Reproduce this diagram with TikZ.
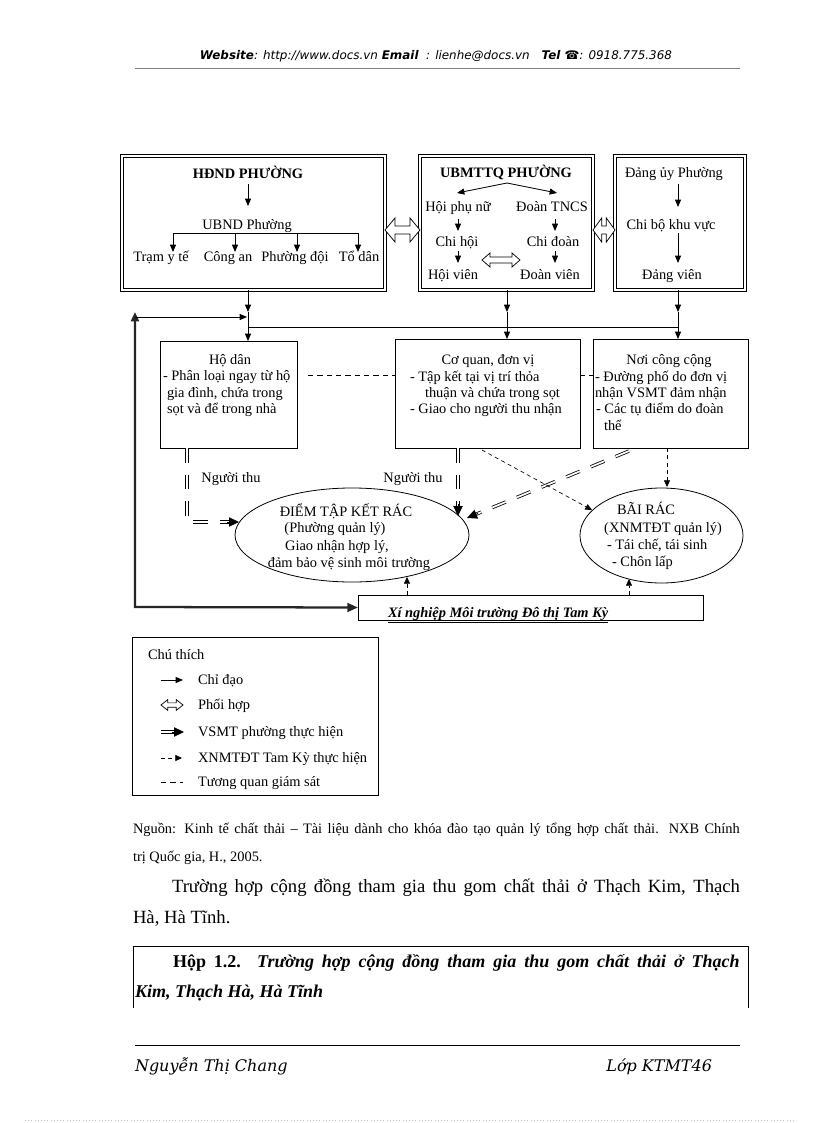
\documentclass[tikz,border=0pt]{standalone}
\usepackage{graphicx}
\usepackage{fontspec}
\setmainfont{Liberation Serif}
\newfontfamily\hdrfont{DejaVu Sans}
\newfontfamily\footfont{DejaVu Serif}
\usetikzlibrary{arrows.meta,shapes.geometric,fit,calc}
\newcommand\dfont{\fontsize{10.8}{13}\selectfont}
% hollow double-headed "coordination" arrow between two named points
% #1,#2 end points; #3 head length; #4 head half width; #5 shaft half width
\newcommand\coopar[5]{\draw[coopo] let \p1=(#1), \p2=(#2) in
  (\x1,\y1) -- (\x1+#3,\y1+#4) -- (\x1+#3,\y1+#5) -- (\x2-#3,\y2+#5) -- (\x2-#3,\y2+#4)
  -- (\x2,\y2) -- (\x2-#3,\y2-#4) -- (\x2-#3,\y2-#5) -- (\x1+#3,\y1-#5) -- (\x1+#3,\y1-#4) -- cycle;}
\begin{document}
\begin{tikzpicture}[x=0.75pt,y=-0.75pt,
  every node/.style={inner sep=0pt, outer sep=0pt},
  tx/.style={font=\dfont, anchor=base, text height=7.5pt, text depth=2.2pt},
  txw/.style={tx, anchor=base west},
  dbox/.style={draw, double, double distance=1.5pt, line width=0.7pt},
  sbox/.style={draw, line width=0.6pt},
  ell/.style={draw, ellipse, line width=0.6pt},
  arr/.style={line width=0.6pt, -{Triangle[length=5.5pt,width=4.5pt]}},
  coopo/.style={draw, fill=white, line width=0.55pt, line join=miter},
  vsmtb/.style={double, double distance=1.3pt, line width=0.6pt, shorten >=6.5pt},
  vsmt/.style={vsmtb, dash pattern=on 11pt off 9pt},
  vtip/.style={line width=0.6pt, -{Triangle[length=7.5pt,width=7pt]}},
  xnm/.style={line width=0.5pt, dash pattern=on 3pt off 2.5pt, -{Triangle[length=5pt,width=4.5pt]}},
  tqgs/.style={line width=0.6pt, dash pattern=on 4pt off 3pt},
  heavy/.style={line width=1.7pt, black!85},
]
\useasboundingbox (0,0) rectangle (816,1123);
\fill[white] (0,0) rectangle (816,1123);

% ---------- header ----------
\node[anchor=base] (hdr) at (436,60) {\resizebox{354pt}{!}{\hdrfont\fontsize{9}{11}\selectfont\bfseries\itshape Website\mdseries : http://www.docs.vn \bfseries Email\mdseries\ \ : lienhe@docs.vn\quad\bfseries Tel ☎\mdseries : 0918.775.368}};
\coordinate (hl1) at (135,68);
\coordinate (hl2) at (740,68);
\draw[gray, line width=0.5pt] (hl1) -- (hl2);

% ---------- top boxes ----------
\node[dbox, fit={(122,156) (385,290)}] (b1) {};
\node[dbox, fit={(420,156) (593,290)}] (b2) {};
\node[dbox, fit={(615,156) (745,290)}] (b3) {};

% box 1
\node[tx, font=\dfont\bfseries] (hdnd) at (248,179) {HĐND PHƯỜNG};
\node[tx] (ubnd) at (247,229) {UBND Phường};
\node[tx] (tram) at (161,262) {Trạm y tế};
\node[tx] (cong) at (228,262) {Công an};
\node[tx] (pdoi) at (295,262) {Phường đội};
\node[tx] (tdan) at (359,262) {Tổ dân};
\coordinate (a1s) at (248,184);
\coordinate (a1e) at (248,206);
\draw[arr] (a1s) -- (a1e);
\coordinate (u1) at (173,233);
\coordinate (u2) at (235,233);
\coordinate (u3) at (297,233);
\coordinate (u4) at (358,233);
\draw[line width=0.6pt] (u1) -- (u4);
\draw[arr] (u1) -- (u1 |- tram.north);
\draw[arr] (u2) -- (u2 |- cong.north);
\draw[arr] (u3) -- (u3 |- pdoi.north);
\draw[arr] (u4) -- (u4 |- tdan.north);

% box 2
\node[tx, font=\dfont\bfseries] (ubm) at (506,178) {UBMTTQ PHƯỜNG};
\node[tx] (hpn) at (458,212) {Hội phụ nữ};
\node[tx] (dtn) at (552,212) {Đoàn TNCS};
\node[tx] (chh) at (457,246) {Chi hội};
\node[tx] (chd) at (553,246) {Chi đoàn};
\node[tx] (hvn) at (453,279) {Hội viên};
\node[tx] (dvn) at (550,279) {Đoàn viên};
\coordinate (ubs) at (507,183);
\coordinate (hpnT) at (457,193);
\coordinate (dtnT) at (557,193);
\draw[arr] (ubs) -- (hpnT);
\draw[arr] (ubs) -- (dtnT);
\coordinate (c1a) at (458,219); \coordinate (c1b) at (458,231);
\coordinate (c2a) at (458,251); \coordinate (c2b) at (458,263);
\coordinate (c3a) at (555,219); \coordinate (c3b) at (555,231);
\coordinate (c4a) at (555,251); \coordinate (c4b) at (555,263);
\draw[arr] (c1a) -- (c1b);
\draw[arr] (c2a) -- (c2b);
\draw[arr] (c3a) -- (c3b);
\draw[arr] (c4a) -- (c4b);
\coordinate (cp1) at (482,260);
\coordinate (cp2) at (520,260);
\coopar{cp1}{cp2}{6pt}{5.25pt}{2.2pt}

% box 3
\node[tx] (dup) at (674,178) {Đảng ủy Phường};
\node[tx] (cbk) at (671,229) {Chi bộ khu vực};
\node[tx] (dvi) at (672,279) {Đảng viên};
\coordinate (d1a) at (678,184); \coordinate (d1b) at (678,207);
\coordinate (d2a) at (678,233); \coordinate (d2b) at (678,263);
\draw[arr] (d1a) -- (d1b);
\draw[arr] (d2a) -- (d2b);

% coordination between boxes
\coopar{[yshift=-5.25pt]b1.east}{[yshift=-5.25pt]b2.west}{7.5pt}{9pt}{3pt}
\coopar{[yshift=-5.25pt]b2.east}{[yshift=-5.25pt]b3.west}{6.5pt}{9pt}{3pt}

% ---------- middle boxes ----------
\node[sbox, fit={(160,341) (297,448)}] (hd) {};
\node[sbox, fit={(395,339) (580,448)}] (cq) {};
\node[sbox, fit={(593,339) (748,448)}] (nc) {};

\node[tx] (hdt) at (230,364) {Hộ dân};
\node[txw] (hd1) at (163,380) {- Phân loại ngay từ hộ};
\node[txw] (hd2) at (167,397) {gia đình, chứa trong};
\node[txw] (hd3) at (167,413) {sọt và để trong nhà};

\node[tx] (cqt) at (488,364) {Cơ quan, đơn vị};
\node[txw] (cq1) at (410,381) {- Tập kết tại vị trí thỏa};
\node[txw] (cq2) at (425,397) {thuận và chứa trong sọt};
\node[txw] (cq3) at (410,413) {- Giao cho người thu nhận};

\node[tx] (nct) at (669,364) {Nơi công cộng};
\node[txw] (nc1) at (595,381) {- Đường phố do đơn vị};
\node[txw] (nc2) at (595,397) {nhận VSMT đảm nhận};
\node[txw] (nc3) at (596,413) {- Các tụ điểm do đoàn};
\node[txw] (nc4) at (604,430) {thể};

% links top -> middle
\coordinate (j1) at (248,312);
\coordinate (j2) at (507,312);
\coordinate (j3) at (678,312);
\coordinate (h1) at (248,327);
\coordinate (h3) at (678,327);
\draw[arr] (j1 |- b1.south) -- (j1);
\draw[arr] (j2 |- b2.south) -- (j2);
\draw[arr] (j3 |- b3.south) -- (j3);
\draw[arr] (j1) -- (j1 |- hd.north);
\draw[arr] (j2) -- (j2 |- cq.north);
\draw[arr] (j3) -- (j3 |- nc.north);
\draw[line width=0.6pt] (h1) -- (h3);

% monitoring dashed links
\coordinate (tq1) at (308,375);
\draw[tqgs] (tq1) -- (tq1 -| cq.west);
\draw[tqgs] (cq.east |- tq1) -- (nc.west |- tq1);

% ---------- ellipses ----------
\node[ell, minimum width=175.5pt, minimum height=70.5pt] (e1) at (352,535) {};
\node[tx] (e1a) at (346,516) {ĐIỂM TẬP KẾT RÁC};
\node[tx] (e1b) at (335,532) {(Phường quản lý)};
\node[tx] (e1c) at (337,550) {Giao nhận hợp lý,};
\node[tx] (e1d) at (349,567) {đảm bảo vệ sinh môi trường};

\node[ell, minimum width=122.25pt, minimum height=71.25pt] (e2) at (661.5,535.5) {};
\node[tx] (e2a) at (646,514) {BÃI RÁC};
\node[tx] (e2b) at (663,532) {(XNMTĐT quản lý)};
\node[txw] (e2c) at (607,549) {- Tái chế, tái sinh};
\node[txw] (e2d) at (612,566) {- Chôn lấp};

\node[tx] (ng1) at (231,482) {Người thu};
\node[tx] (ng2) at (413,482) {Người thu};

% VSMT flows
\coordinate (v1) at (187,522);
\coordinate (v1t) at (239,522);
\draw[vsmt] (v1 |- hd.south) -- (v1) -- (v1t);
\draw[vtip] ($(v1t)!9pt!(v1)$) -- (v1t);
\coordinate (v2t) at (458,516);
\draw[vsmt] (v2t |- cq.south) -- (v2t);
\draw[vtip] ($(v2t)!9pt!(v2t |- cq.south)$) -- (v2t);
\coordinate (v3s) at (629,451);
\coordinate (v3t) at (467,518);
\draw[vsmt] (v3s) -- (v3t);
\draw[vtip] ($(v3t)!9pt!(v3s)$) -- (v3t);

% XNMTDT flows
\coordinate (x1s) at (482,450);
\coordinate (x1t) at (592,510);
\draw[xnm] (x1s) -- (x1t);
\coordinate (x2) at (667,487);
\draw[xnm] (x2 |- nc.south) -- (x2);

% ---------- Xi nghiep ----------
\node[sbox, fit={(358,595) (703,620)}] (xn) {};
\node[txw, font=\dfont\bfseries\itshape] (xnt) at (388,617) {\underline{Xí nghiệp Môi trường Đô thị Tam Kỳ}};
\coordinate (x3) at (407,577);
\draw[xnm] (x3 |- xn.north) -- (x3);
\coordinate (x4) at (629,579);
\draw[xnm] (x4 |- xn.north) -- (x4);

\coordinate (lt) at (135,312);
\coordinate (lc) at (135,607);
\draw[heavy, {Triangle[length=7pt,width=6pt]}-{Triangle[length=8pt,width=6.5pt]}] (lt) -- (lc) -- (xn.west);
\coordinate (lh) at (135,317);
\coordinate (lhe) at (247,317);
\draw[arr] (lh) -- (lhe);

% ---------- legend ----------
\node[sbox, fit={(132,637) (378,795)}] (lg) {};
\node[txw] (lgt) at (148,659) {Chú thích};
\coordinate (l1a) at (161,680); \coordinate (l1b) at (183,680);
\coordinate (l2a) at (161,705); \coordinate (l2b) at (183,705);
\coordinate (l3a) at (161,732); \coordinate (l3b) at (184,732);
\coordinate (l4a) at (161,758); \coordinate (l4b) at (182,758);
\coordinate (l5a) at (161,782); \coordinate (l5b) at (183,782);
\draw[arr] (l1a) -- (l1b);
\coopar{l2a}{l2b}{5pt}{4pt}{1.6pt}
\draw[vsmtb] (l3a) -- (l3b);
\draw[vtip] ($(l3b)!9pt!(l3a)$) -- (l3b);
\draw[xnm] (l4a) -- (l4b);
\draw[tqgs] (l5a) -- (l5b);
\node[txw] (lg1) at (198,684) {Chỉ đạo};
\node[txw] (lg2) at (198,709) {Phối hợp};
\node[txw] (lg3) at (198,736) {VSMT phường thực hiện};
\node[txw] (lg4) at (198,762) {XNMTĐT Tam Kỳ thực hiện};
\node[txw] (lg5) at (198,786) {Tương quan giám sát};

% ---------- text below ----------
\node[anchor=base west, font=\fontsize{10.8}{12}\selectfont] (src1) at (133,833) {\makebox[455pt][s]{Nguồn:  Kinh tế chất thải – Tài liệu dành cho khóa đào tạo quản lý tổng hợp chất thải.  NXB Chính}};
\node[anchor=base west, font=\fontsize{10.8}{12}\selectfont] (src2) at (133,861) {trị Quốc gia,  H., 2005.};
\node[anchor=base west, font=\fontsize{14}{16}\selectfont] (p1) at (172,892) {\makebox[426pt][s]{Trường hợp cộng đồng tham gia thu gom chất thải ở Thạch Kim, Thạch}};
\node[anchor=base west, font=\fontsize{14}{16}\selectfont] (p2) at (133,923) {Hà, Hà Tĩnh.};

\coordinate (k1) at (133,1008);
\coordinate (k2) at (133,946);
\coordinate (k3) at (748,946);
\coordinate (k4) at (748,1008);
\draw[line width=0.6pt] (k1) -- (k2) -- (k3) -- (k4);
\node[anchor=base west, font=\fontsize{13.5}{16}\selectfont\bfseries] (hp1) at (173,967) {\makebox[425pt][s]{Hộp  1.2. \textit{Trường hợp cộng đồng tham gia thu gom chất thải ở Thạch}}};
\node[anchor=base west, font=\fontsize{13.5}{16}\selectfont\bfseries\itshape] (hp2) at (135,997) {Kim, Thạch Hà, Hà Tĩnh};

% ---------- footer ----------
\coordinate (f1) at (135,1045);
\coordinate (f2) at (740,1045);
\draw[line width=0.5pt] (f1) -- (f2);
\node[anchor=base west, font=\footfont\fontsize{12}{14}\selectfont\itshape] (ft1) at (135,1071) {Nguyễn Thị Chang};
\node[anchor=base east, font=\footfont\fontsize{12}{14}\selectfont\itshape] (ft2) at (712,1071) {Lớp KTMT46};
\coordinate (bd1) at (25,1120);
\coordinate (bd2) at (795,1120);
\draw[gray!50, dotted, line width=0.4pt] (bd1) -- (bd2);
\end{tikzpicture}
\end{document}
